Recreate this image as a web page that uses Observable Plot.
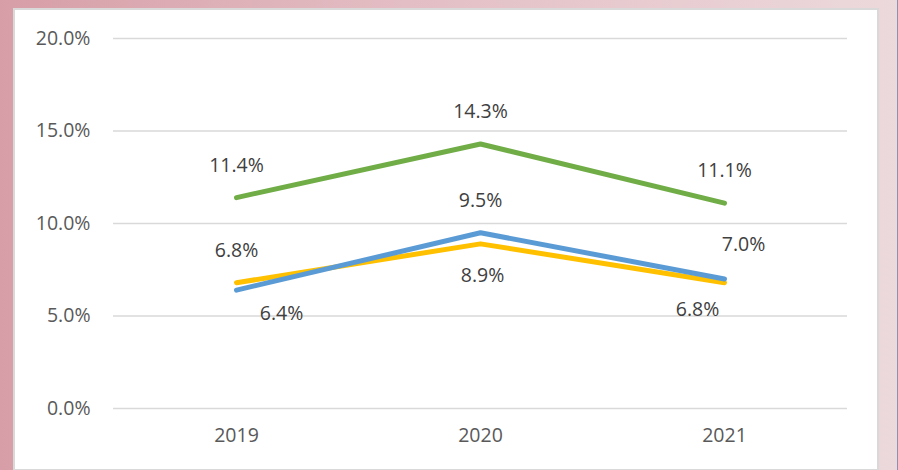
<!DOCTYPE html>
<html>
<head>
<meta charset="utf-8">
<script src="https://cdn.jsdelivr.net/npm/d3@7"></script>
<script src="https://cdn.jsdelivr.net/npm/@observablehq/plot@0.6"></script>
<style>
  html, body { margin: 0; padding: 0; }
  body {
    width: 898px; height: 470px; position: relative; overflow: hidden;
    background: linear-gradient(to right, #d79ea7 0%, #e3bec4 45%, #ecd9dc 100%);
  }
  #edge { position: absolute; right: 0; top: 0; width: 1px; height: 470px; background: #8f90b0; }
  #panel {
    position: absolute; left: 13px; top: 8px; width: 862px; height: 459px;
    background: #fff; border: 2px solid #d9d9d9; box-sizing: content-box;
  }
  #chart { position: absolute; left: 0; top: 0; }
  #chart svg { background: transparent; }
</style>
</head>
<body>
<div id="edge"></div>
<div id="panel"></div>
<div id="chart"></div>
<script>
const years = ["2019", "2020", "2021"];
const seriesNames = ["green", "blue", "yellow"];
const greenValues = [11.4, 14.3, 11.1];
const blueValues = [6.4, 9.5, 7.0];
const yellowValues = [6.8, 8.9, 6.8];
const yTicks = [0, 5, 10, 15, 20];

const colors = {green: "#70ad47", blue: "#5b9bd5", yellow: "#ffc000"};
const valuesBySeries = {green: greenValues, blue: blueValues, yellow: yellowValues};

const data = seriesNames.flatMap(s => years.map((y, i) => ({series: s, year: y, value: valuesBySeries[s][i]})));

// label placement (styling): offsets in pixels per series/year
const labelOffsets = {
  green:  [[0, -32], [0, -32], [0, -32]],
  blue:   [[45, 24], [0, -32], [19, -34]],
  yellow: [[0, -32], [2, 32], [-27, 27]]
};
const labels = data.map(d => {
  const i = years.indexOf(d.year);
  const [dx, dy] = labelOffsets[d.series][i];
  return {...d, dx, dy};
});

const font = "'Open Sans', 'Liberation Sans', Arial, sans-serif";
const textColor = "#595959";
const fs = 19.5;

const marks = [
  Plot.ruleY(yTicks, {stroke: "#d9d9d9", strokeWidth: 1.5}),
  Plot.axisY({ticks: yTicks, tickFormat: d => d.toFixed(1) + "%", tickSize: 0, tickPadding: 23, fill: textColor, fontSize: fs}),
  Plot.axisX({tickSize: 0, tickPadding: 20, fill: textColor, fontSize: fs}),
  ...["yellow", "blue", "green"].map(s =>
    Plot.line(data.filter(d => d.series === s), {x: "year", y: "value", stroke: colors[s], strokeWidth: 5, strokeLinecap: "round", strokeLinejoin: "round"})
  ),
  ...labels.map(l =>
    Plot.text([l], {x: "year", y: "value", text: d => d.value.toFixed(1) + "%", dx: l.dx, dy: l.dy, fill: "#404040", fontSize: fs})
  )
];

const chart = Plot.plot({
  width: 898,
  height: 470,
  marginLeft: 113,
  marginRight: 51,
  marginTop: 38,
  marginBottom: 62,
  style: {fontFamily: font, background: "transparent", overflow: "visible"},
  x: {type: "point", domain: years, padding: 0.5, label: null},
  y: {domain: [0, 20], label: null},
  marks
});
document.getElementById("chart").appendChild(chart);
</script>
</body>
</html>
